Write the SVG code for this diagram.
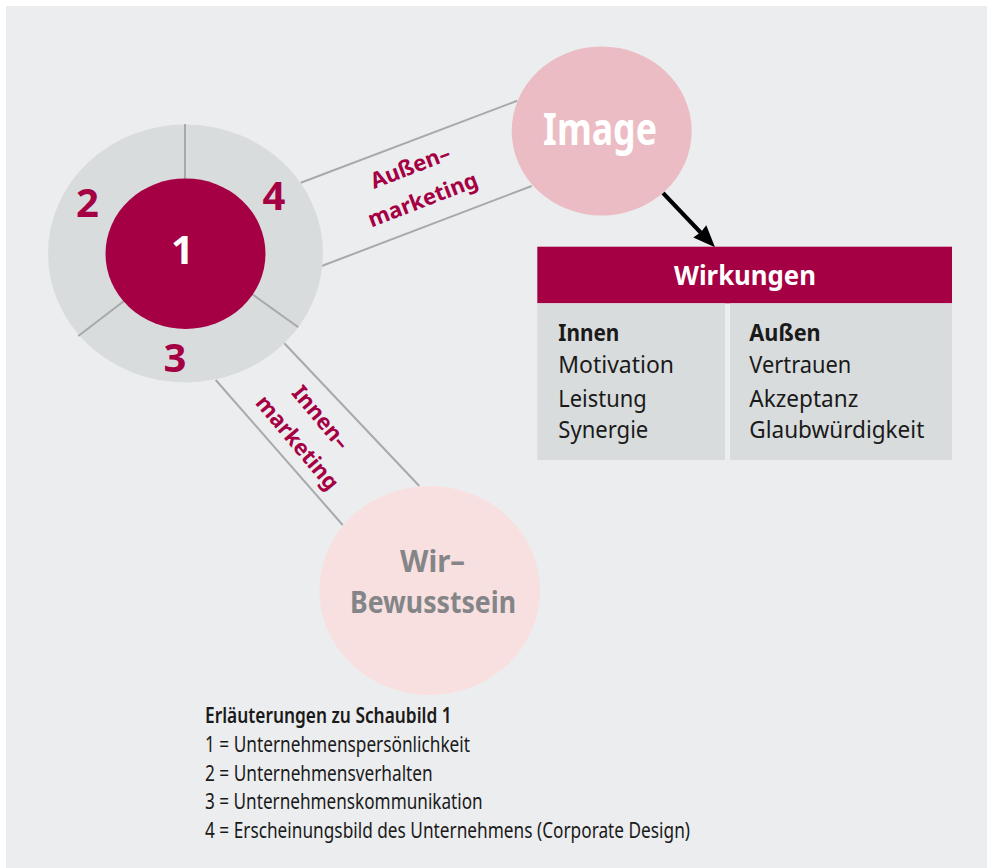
<svg xmlns="http://www.w3.org/2000/svg" width="987" height="868" viewBox="0 0 987 868">
<style>
.band{stroke:#a8a9ab;stroke-width:2;fill:none}
.num{font-family:"Noto Sans",sans-serif;font-weight:700;font-size:40px;fill:#a50044;text-anchor:middle}
.lbl{font-family:"Noto Sans",sans-serif;font-weight:700;font-size:22px;fill:#a50044;text-anchor:middle}
.cell{font-family:"Noto Sans",sans-serif;font-size:23px;fill:#1a1a1a}
.b{font-weight:700}
.leg{font-family:"Noto Sans",sans-serif;font-size:21.5px;fill:#1a1a1a}
</style>
<rect x="0" y="0" width="987" height="868" fill="#ffffff"/>
<rect x="6" y="6" width="981" height="862" fill="#ecedef"/>
<g id="connectors">
<line class="band" x1="300.7" y1="182.7" x2="517.3" y2="100.7"/>
<line class="band" x1="321.7" y1="266" x2="531.7" y2="186"/>
<line class="band" x1="215.7" y1="380" x2="342.7" y2="525"/>
<line class="band" x1="284.3" y1="343.3" x2="419.3" y2="486"/>
<line x1="663" y1="193" x2="703" y2="235" stroke="#000" stroke-width="4"/>
<polygon points="715,247.3 693.3,237.6 701,232 706.3,225.2" fill="#000"/>
<g transform="translate(413,174) rotate(-21)">
<text class="lbl" x="0" y="0">Außen–</text>
<text class="lbl" x="0" y="35">marketing</text>
</g>
<g transform="translate(315,422.5) rotate(50)">
<text class="lbl" x="0" y="0">Innen–</text>
<text class="lbl" x="4" y="34">marketing</text>
</g>
</g>
<g id="node-identity">
<ellipse cx="185.5" cy="253.5" rx="137.5" ry="129" fill="#d9dcdd"/>
<line class="band" x1="185" y1="124" x2="185" y2="180"/>
<line class="band" x1="78.3" y1="336" x2="124" y2="301"/>
<line class="band" x1="252" y1="294" x2="298.3" y2="327.3"/>
<ellipse cx="185.5" cy="253.7" rx="80" ry="75.3" fill="#a50044"/>
<text class="num" x="182.5" y="264" style="fill:#ffffff">1</text>
<text class="num" x="87.5" y="217.3">2</text>
<text class="num" x="175" y="371.7">3</text>
<text class="num" x="274" y="210">4</text>
</g>
<g id="node-image">
<ellipse cx="601.7" cy="131" rx="90" ry="84.5" fill="#ebbcc3"/>
<text x="600" y="145" font-family="Noto Sans, sans-serif" font-weight="700" font-size="44" fill="#ffffff" text-anchor="middle" textLength="114" lengthAdjust="spacingAndGlyphs">Image</text>
</g>
<g id="node-wir">
<ellipse cx="429.7" cy="590.5" rx="110.3" ry="104.5" fill="#f9e0e0"/>
<text x="432.5" y="571.7" font-family="Noto Sans, sans-serif" font-weight="700" font-size="30" fill="#838588" text-anchor="middle" textLength="65" lengthAdjust="spacingAndGlyphs">Wir–</text>
<text x="433" y="613.3" font-family="Noto Sans, sans-serif" font-weight="700" font-size="30" fill="#838588" text-anchor="middle" textLength="166" lengthAdjust="spacingAndGlyphs">Bewusstsein</text>
</g>
<g id="node-wirkungen">
<rect x="537.3" y="246.7" width="414.7" height="56.6" fill="#a50044"/>
<rect x="537.3" y="303.3" width="187.7" height="156.7" fill="#d9dcdd"/>
<rect x="730" y="303.3" width="222" height="156.7" fill="#d9dcdd"/>
<text x="745" y="285" font-family="Noto Sans, sans-serif" font-weight="700" font-size="27" fill="#ffffff" text-anchor="middle" textLength="142" lengthAdjust="spacingAndGlyphs">Wirkungen</text>
<text class="cell b" x="558.3" y="341" textLength="61" lengthAdjust="spacingAndGlyphs">Innen</text>
<text class="cell" x="558.3" y="373.3" textLength="115.7" lengthAdjust="spacingAndGlyphs">Motivation</text>
<text class="cell" x="558.3" y="406.7" textLength="88.4" lengthAdjust="spacingAndGlyphs">Leistung</text>
<text class="cell" x="558.3" y="438.3" textLength="90" lengthAdjust="spacingAndGlyphs">Synergie</text>
<text class="cell b" x="749.3" y="341" textLength="71.4" lengthAdjust="spacingAndGlyphs">Außen</text>
<text class="cell" x="749.3" y="373.3" textLength="102" lengthAdjust="spacingAndGlyphs">Vertrauen</text>
<text class="cell" x="749.3" y="406.7" textLength="109" lengthAdjust="spacingAndGlyphs">Akzeptanz</text>
<text class="cell" x="749.3" y="438.3" textLength="175" lengthAdjust="spacingAndGlyphs">Glaubwürdigkeit</text>
</g>
<g id="legend">
<text class="leg" x="205" y="723.3" font-weight="600" textLength="246.7" lengthAdjust="spacingAndGlyphs">Erläuterungen zu Schaubild 1</text>
<text class="leg" x="205" y="751.7" textLength="265" lengthAdjust="spacingAndGlyphs">1 = Unternehmenspersönlichkeit</text>
<text class="leg" x="205" y="780.7" textLength="227.7" lengthAdjust="spacingAndGlyphs">2 = Unternehmensverhalten</text>
<text class="leg" x="205" y="809.3" textLength="277.7" lengthAdjust="spacingAndGlyphs">3 = Unternehmenskommunikation</text>
<text class="leg" x="205" y="837.7" textLength="485" lengthAdjust="spacingAndGlyphs">4 = Erscheinungsbild des Unternehmens (Corporate Design)</text>
</g>
</svg>
